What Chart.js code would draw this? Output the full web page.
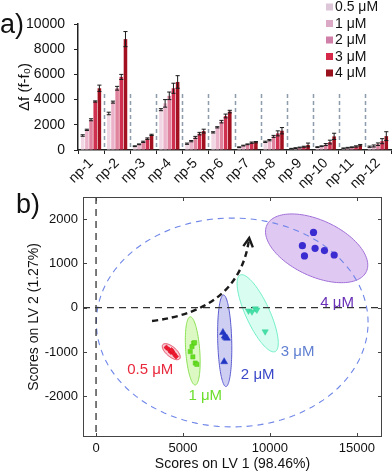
<!DOCTYPE html>
<html><head><meta charset="utf-8">
<script src="https://cdn.jsdelivr.net/npm/chart.js@4.4.1/dist/chart.umd.min.js"></script>
<style>
html,body{margin:0;padding:0;background:#fff;width:392px;height:474px;overflow:hidden;}
#wrapA{position:absolute;left:0;top:0;width:392px;height:190px;}
#wrapB{position:absolute;left:0;top:180px;width:392px;height:294px;}
canvas{display:block;}
</style></head><body>
<div id="wrapA"><canvas id="cA" width="392" height="190"></canvas></div>
<div id="wrapB"><canvas id="cB" width="392" height="294"></canvas></div>
<script>
// ---------- Panel a data ----------
const categories = ['np-1','np-2','np-3','np-4','np-5','np-6','np-7','np-8','np-9','np-10','np-11','np-12'];
const concentrations = ['0.5 μM','1 μM','2 μM','3 μM','4 μM'];
const df05 = [1150, 2900, 300, 3200, 500, 1400, 220, 650, 100, 230, 130, 260];
const df1  = [1600, 3800, 450, 3700, 700, 1800, 350, 780, 150, 300, 180, 320];
const df2  = [2400, 4900, 650, 4300, 1000, 2250, 450, 1080, 200, 430, 220, 460];
const df3  = [3850, 5800, 900, 4900, 1300, 2700, 580, 1320, 260, 630, 280, 700];
const df4  = [4900, 8800, 1200, 5400, 1500, 3050, 620, 1530, 400, 1080, 380, 1100];
const err05 = [60, 100, 30, 80, 50, 50, 30, 50, 30, 30, 30, 50];
const err1  = [50, 80, 30, 300, 50, 50, 30, 50, 30, 30, 30, 80];
const err2  = [80, 150, 50, 300, 80, 100, 30, 80, 30, 80, 30, 100];
const err3  = [50, 200, 60, 400, 100, 150, 50, 200, 40, 150, 50, 200];
const err4  = [250, 600, 50, 500, 150, 100, 50, 250, 150, 250, 60, 350];
const dfTicks = [0, 2000, 4000, 6000, 8000, 10000];
const separatorTop = 4600;

// ---------- Panel b data ----------
const lv1_05 = [4050, 4200, 4300, 4400, 4500, 4600, 4350];
const lv2_05 = [-900, -950, -1000, -1000, -1050, -1100, -960];
const lv1_1  = [5610, 5520, 5670, 5420, 5570, 5710, 5800];
const lv2_1  = [-800, -880, -790, -990, -1110, -1250, -1280];
const lv1_2  = [7300, 7400, 7530, 7450, 7370];
const lv2_2  = [-560, -640, -690, -670, -1220];
const lv1_3  = [8770, 8970, 9160, 9250, 9730];
const lv2_3  = [-70, -90, -20, -50, -540];
const lv1_4  = [12510, 11870, 12600, 13140, 11990, 13700];
const lv2_4  = [1700, 1400, 1340, 1290, 1170, 1190];
const groupLabels = ['0.5 μM','1 μM','2 μM','3 μM','4 μM'];
// group confidence ellipses: centre + two conjugate semi-axis vectors (data units)
const ellCx = [4327, 5563, 7402, 9299, 12690];
const ellCy = [-993, -975, -747, -126, 1341];
const ellAx = [483, -144, -69, -1006, 2862];
const ellAy = [-160, 770, 1034, 864, -524];
const ellBx = [-184, 402, 402, 626, -678];
const ellBy = [-86, 11, 0, 113, -573];
// overall dashed confidence ellipse
const confCx = 7833, confCy = -334, confRx = 7816, confRy = 2359;
const lv1Ticks = [0, 5000, 10000, 15000];
const lv2Ticks = [-2000, -1000, 0, 1000, 2000];

const FONT = "'Liberation Sans', Arial, Helvetica, sans-serif";
const barColors = ['#f1d7e3', '#ebb3c9', '#e0839f', '#d0304f', '#a3101f'];
const legendColors = ['#dcc6d8', '#dba9c6', '#cf7fa8', '#d6294a', '#98111d'];

// ---------- Panel a plugins ----------
const errorBarPlugin = {
  id: 'errorBars',
  afterDatasetsDraw(chart) {
    const ctx = chart.ctx, y = chart.scales.y;
    ctx.save();
    ctx.strokeStyle = '#1a1a1a'; ctx.lineWidth = 1;
    chart.data.datasets.forEach((ds, i) => {
      const meta = chart.getDatasetMeta(i);
      meta.data.forEach((bar, j) => {
        const v = ds.data[j], e = ds.errors[j];
        const yt = y.getPixelForValue(v + e), yb = y.getPixelForValue(Math.max(0, v - e));
        const hw = bar.width / 2 + 0.3;
        ctx.beginPath();
        ctx.moveTo(bar.x, yt); ctx.lineTo(bar.x, yb);
        ctx.moveTo(bar.x - hw, yt); ctx.lineTo(bar.x + hw, yt);
        ctx.moveTo(bar.x - hw, yb); ctx.lineTo(bar.x + hw, yb);
        ctx.stroke();
      });
    });
    ctx.restore();
  }
};
const separatorPlugin = {
  id: 'separators',
  afterDatasetsDraw(chart) {
    const ctx = chart.ctx, x = chart.scales.x, y = chart.scales.y;
    ctx.save();
    ctx.strokeStyle = '#8d9dab'; ctx.lineWidth = 1.5; ctx.setLineDash([4, 3]);
    for (let i = 0; i < categories.length - 1; i++) {
      const px = Math.round((x.getPixelForValue(i) + x.getPixelForValue(i + 1)) / 2) + 0.5;
      ctx.beginPath();
      ctx.moveTo(px, y.getPixelForValue(0) - 3);
      ctx.lineTo(px, y.getPixelForValue(separatorTop));
      ctx.stroke();
    }
    ctx.restore();
  }
};
const legendAPlugin = {
  id: 'legendA',
  afterDraw(chart) {
    const ctx = chart.ctx;
    ctx.save();
    ctx.font = '14px ' + FONT; ctx.textBaseline = 'middle'; ctx.textAlign = 'left';
    chart.data.datasets.forEach((ds, i) => {
      const cy = 7 + i * 16.5;
      ctx.fillStyle = legendColors[i];
      ctx.fillRect(326, cy - 3.5, 7, 7);
      ctx.fillStyle = '#111';
      ctx.fillText(ds.label, 335, cy + 0.5);
    });
    ctx.font = '27px ' + FONT; ctx.textBaseline = 'alphabetic'; ctx.fillStyle = '#111';
    ctx.fillText('a)', 0, 33);
    ctx.restore();
  }
};

const seriesValues = [df05, df1, df2, df3, df4];
const seriesErrors = [err05, err1, err2, err3, err4];

new Chart(document.getElementById('cA'), {
  type: 'bar',
  data: {
    labels: categories,
    datasets: concentrations.map((c, i) => ({
      label: c, data: seriesValues[i], errors: seriesErrors[i],
      backgroundColor: barColors[i], borderWidth: 0,
      categoryPercentage: 0.8, barPercentage: 0.85
    }))
  },
  options: {
    responsive: false, animation: false, devicePixelRatio: 1,
    layout: { padding: { top: 24, right: 1, left: 0, bottom: 0 } },
    plugins: { legend: { display: false }, tooltip: { enabled: false } },
    scales: {
      x: {
        grid: { drawOnChartArea: false, drawTicks: true, tickLength: 4, color: '#222', lineWidth: 1 },
        border: { display: true, color: '#222', width: 1.5 },
        ticks: { font: { size: 14, family: FONT }, color: '#111', minRotation: 45, maxRotation: 45, padding: 1, autoSkip: false },
        afterFit: s => { s.height = 40; }
      },
      y: {
        min: 0, max: 10000,
        afterBuildTicks: s => { s.ticks = dfTicks.map(v => ({ value: v })); },
        grid: { drawOnChartArea: false, drawTicks: true, tickLength: 4, color: '#222' },
        border: { display: true, color: '#222', width: 1.5 },
        ticks: { font: { size: 14, family: FONT }, color: '#111', padding: 9, callback: v => String(v) },
        title: { display: true, text: 'Δf (f-f₀)', font: { size: 15, family: FONT }, color: '#111', padding: { top: 16, bottom: 0 } },
        afterFit: s => { s.width = 78; }
      }
    }
  },
  plugins: [separatorPlugin, errorBarPlugin, legendAPlugin]
});

// ---------- Panel b plugins ----------
function ellipsePath(ctx, cx, cy, ax, ay, bx, by) {
  ctx.beginPath();
  for (let k = 0; k <= 120; k++) {
    const t = k / 120 * Math.PI * 2;
    const px = cx + ax * Math.cos(t) + bx * Math.sin(t);
    const py = cy + ay * Math.cos(t) + by * Math.sin(t);
    if (k === 0) ctx.moveTo(px, py); else ctx.lineTo(px, py);
  }
  ctx.closePath();
}
const ellFill = ['rgba(248,196,206,0.9)', 'rgba(214,248,186,0.85)', 'rgba(196,198,238,0.85)', 'rgba(210,253,238,0.85)', 'rgba(220,194,240,0.9)'];
const ellStroke = ['#e0405a', '#88e050', '#5a5ad0', '#6eeec6', '#a070d8'];
const labelColors = ['#e8283c', '#6cde2c', '#3a48c8', '#5f7fd0', '#6a30b8'];
const labelX = [3120, 6282, 9299, 11597, 13867];
const labelY = [-1406, -1993, -1519, -1000, 113];
const arrowPts = [[3220, -300], [8290, -52], [8810, 1573]];

const backgroundPlugin = {
  id: 'bgB',
  beforeDatasetsDraw(chart) {
    const ctx = chart.ctx, x = chart.scales.x, y = chart.scales.y, ca = chart.chartArea;
    ctx.save();
    ctx.beginPath(); ctx.rect(ca.left, ca.top, ca.right - ca.left, ca.bottom - ca.top); ctx.clip();
    for (let i = 0; i < ellCx.length; i++) {
      const cx = x.getPixelForValue(ellCx[i]), cy = y.getPixelForValue(ellCy[i]);
      const ax = x.getPixelForValue(ellCx[i] + ellAx[i]) - cx, ay = y.getPixelForValue(ellCy[i] + ellAy[i]) - cy;
      const bx = x.getPixelForValue(ellCx[i] + ellBx[i]) - cx, by = y.getPixelForValue(ellCy[i] + ellBy[i]) - cy;
      ellipsePath(ctx, cx, cy, ax, ay, bx, by);
      ctx.fillStyle = ellFill[i]; ctx.fill();
      ctx.strokeStyle = ellStroke[i]; ctx.lineWidth = 1; ctx.stroke();
    }
    // overall confidence ellipse
    {
      const cx = x.getPixelForValue(confCx), cy = y.getPixelForValue(confCy);
      const rx = x.getPixelForValue(confCx + confRx) - cx, ry = y.getPixelForValue(confCy + confRy) - cy;
      ellipsePath(ctx, cx, cy, rx, 0, 0, ry);
      ctx.setLineDash([6, 5]); ctx.strokeStyle = '#6f86e8'; ctx.lineWidth = 1.1; ctx.stroke();
    }
    // zero lines
    ctx.setLineDash([7, 5]); ctx.strokeStyle = '#333'; ctx.lineWidth = 1.3;
    const x0 = x.getPixelForValue(0), y0 = y.getPixelForValue(0);
    ctx.beginPath(); ctx.moveTo(x0, ca.top); ctx.lineTo(x0, ca.bottom); ctx.stroke();
    ctx.beginPath(); ctx.moveTo(ca.left, y0); ctx.lineTo(ca.right, y0); ctx.stroke();
    ctx.restore();
  },
  afterDatasetsDraw(chart) {
    const ctx = chart.ctx, x = chart.scales.x, y = chart.scales.y, ca = chart.chartArea;
    ctx.save();
    // group labels
    ctx.font = '15px ' + FONT; ctx.textAlign = 'center'; ctx.textBaseline = 'middle';
    groupLabels.forEach((t, i) => {
      ctx.fillStyle = labelColors[i];
      ctx.fillText(t, x.getPixelForValue(labelX[i]), y.getPixelForValue(labelY[i]));
    });
    // arrow
    const p = arrowPts.map(q => [x.getPixelForValue(q[0]), y.getPixelForValue(q[1])]);
    ctx.strokeStyle = '#1a1a1a'; ctx.lineWidth = 2.4; ctx.setLineDash([6, 4]);
    ctx.beginPath(); ctx.moveTo(p[0][0], p[0][1]); ctx.quadraticCurveTo(p[1][0], p[1][1], p[2][0], p[2][1]); ctx.stroke();
    ctx.setLineDash([]);
    const ang = Math.atan2(p[2][1] - p[1][1], p[2][0] - p[1][0]);
    const L = 10;
    ctx.beginPath();
    ctx.moveTo(p[2][0] - L * Math.cos(ang - 0.5), p[2][1] - L * Math.sin(ang - 0.5));
    ctx.lineTo(p[2][0], p[2][1]);
    ctx.lineTo(p[2][0] - L * Math.cos(ang + 0.5), p[2][1] - L * Math.sin(ang + 0.5));
    ctx.stroke();
    // box + inward ticks
    ctx.strokeStyle = '#444'; ctx.lineWidth = 1;
    ctx.strokeRect(ca.left + 0.5, ca.top + 0.5, ca.right - ca.left - 1, ca.bottom - ca.top - 1);
    ctx.beginPath();
    lv1Ticks.forEach(v => {
      const px = Math.round(x.getPixelForValue(v)) + 0.5;
      ctx.moveTo(px, ca.bottom); ctx.lineTo(px, ca.bottom - 4);
      ctx.moveTo(px, ca.top); ctx.lineTo(px, ca.top + 4);
    });
    lv2Ticks.forEach(v => {
      const py = Math.round(y.getPixelForValue(v)) + 0.5;
      ctx.moveTo(ca.left, py); ctx.lineTo(ca.left + 4, py);
      ctx.moveTo(ca.right, py); ctx.lineTo(ca.right - 4, py);
    });
    ctx.stroke();
    ctx.font = '27px ' + FONT; ctx.textAlign = 'left'; ctx.textBaseline = 'alphabetic'; ctx.fillStyle = '#111';
    ctx.fillText('b)', 16, 33);
    ctx.restore();
  }
};

const toPts = (xs, ys) => xs.map((v, i) => ({ x: v, y: ys[i] }));
new Chart(document.getElementById('cB'), {
  type: 'scatter',
  data: {
    datasets: [
      { label: groupLabels[0], data: toPts(lv1_05, lv2_05), pointStyle: 'rectRot', pointRadius: 2.6, backgroundColor: '#f01830', borderColor: '#d01020', borderWidth: 0.5 },
      { label: groupLabels[1], data: toPts(lv1_1, lv2_1), pointStyle: 'rect', pointRadius: 3, backgroundColor: '#66dd22', borderColor: '#55c818', borderWidth: 0.5 },
      { label: groupLabels[2], data: toPts(lv1_2, lv2_2), pointStyle: 'triangle', pointRadius: 4, backgroundColor: '#2236c4', borderColor: '#2236c4', borderWidth: 0.5 },
      { label: groupLabels[3], data: toPts(lv1_3, lv2_3), pointStyle: 'triangle', rotation: 180, pointRadius: 3.6, backgroundColor: '#44e0a8', borderColor: '#38d098', borderWidth: 0.5 },
      { label: groupLabels[4], data: toPts(lv1_4, lv2_4), pointStyle: 'circle', pointRadius: 3.6, backgroundColor: '#3a2cd0', borderColor: '#3a2cd0', borderWidth: 0 }
    ]
  },
  options: {
    responsive: false, animation: false, devicePixelRatio: 1,
    layout: { padding: { top: 17, right: 10, left: 0, bottom: 0 } },
    plugins: { legend: { display: false }, tooltip: { enabled: false } },
    scales: {
      x: {
        type: 'linear', min: -750, max: 16450,
        afterBuildTicks: s => { s.ticks = lv1Ticks.map(v => ({ value: v })); },
        grid: { display: false, drawTicks: false },
        border: { display: false },
        ticks: { font: { size: 13, family: FONT }, color: '#111', padding: 4, callback: v => String(v), maxRotation: 0 },
        title: { display: true, text: 'Scores on LV 1 (98.46%)', font: { size: 14, family: FONT }, color: '#111', padding: { top: 0, bottom: 1 } },
        afterFit: s => { s.height = 37; }
      },
      y: {
        type: 'linear', min: -2920, max: 2500,
        afterBuildTicks: s => { s.ticks = lv2Ticks.map(v => ({ value: v })); },
        grid: { display: false, drawTicks: false },
        border: { display: false },
        ticks: { font: { size: 13, family: FONT }, color: '#111', padding: 5, callback: v => String(v) },
        title: { display: true, text: 'Scores on LV 2 (1.27%)', font: { size: 14, family: FONT }, color: '#111', padding: { top: 26, bottom: 0 } },
        afterFit: s => { s.width = 83; }
      }
    }
  },
  plugins: [backgroundPlugin]
});
</script>
</body></html>
